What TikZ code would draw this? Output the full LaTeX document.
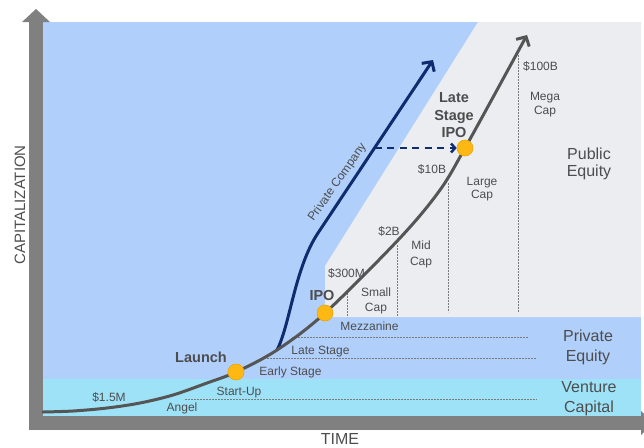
\documentclass[tikz,border=0pt]{standalone}
\usepackage{fontspec}
\setmainfont{Liberation Sans}
\usetikzlibrary{arrows.meta}
\definecolor{skyblue}{HTML}{B0CFFB}
\definecolor{pubgray}{HTML}{EBEDF1}
\definecolor{vcyan}{HTML}{9EE2F8}
\definecolor{axisgray}{HTML}{808080}
\definecolor{curvegray}{HTML}{555555}
\definecolor{navyline}{HTML}{0E2C6E}
\definecolor{dotfill}{HTML}{FDB813}
\definecolor{dotrim}{HTML}{EFA400}
\definecolor{labelgray}{HTML}{4D4D4D}
\definecolor{guidegray}{HTML}{7A7A7A}
\newcommand\fsz[2]{\fontsize{#1}{#2}\selectfont}
\begin{document}
\begin{tikzpicture}[x=1pt,y=-1pt,
  lbl/.style={inner sep=0pt, text=labelgray, font=\fsz{12}{14}},
  single/.style={lbl, anchor=base},
  multi/.style={lbl, anchor=north, align=center},
  bigtxt/.style={font=\fsz{16}{#1}},
  boldtxt/.style={font=\bfseries\fsz{14.5}{#1}},
  guide/.style={draw=guidegray, line width=0.8pt, dash pattern=on 1.6pt off 1.4pt},
  growth/.style={draw=curvegray, line width=3pt, line cap=round,
    -{Straight Barb[length=7pt,width=15pt]}},
  privline/.style={draw=navyline, line width=3pt, line cap=round,
    -{Straight Barb[length=7pt,width=15pt]}},
  jump/.style={draw=navyline, line width=2.5pt, dash pattern=on 7pt off 5.5pt,
    -{Straight Barb[length=4pt,width=9pt]}},
  dot/.style={circle, fill=dotfill, draw=dotrim, line width=0.6pt,
    minimum size=16pt, inner sep=0pt}]
\useasboundingbox (0,0) rectangle (644,447);

% market regions
\fill[skyblue] (43,22) rectangle (641,416);
\fill[pubgray] (478,22) -- (641,22) -- (641,317) -- (325,317) -- (325,266) -- cycle;
\fill[vcyan] (43,379) rectangle (641,416);

% stage guides
\draw[guide] (292,337) -- (528,337);
\draw[guide] (267,358) -- (537,358);
\draw[guide] (185,399) -- (537,399);
\draw[guide] (347,290) -- (347,317);
\draw[guide] (397,245) -- (397,317);
\draw[guide] (448,183) -- (448,312);
\draw[guide] (518,55) -- (518,312);

% axes
\fill[axisgray] (29,22) rectangle (43,430);
\fill[axisgray] (22,22) -- (36,9) -- (50,22) -- cycle;
\fill[axisgray] (29,416) rectangle (641,430);
\fill[axisgray] (641,411) -- (654,423) -- (641,435) -- cycle;

% key points on the growth curve
\coordinate (pLaunch) at (236,372);
\coordinate (pFork) at (277,350);
\coordinate (pIPO) at (325,313);
\coordinate (pLate) at (465,148);
\coordinate (privTip) at (433,60);
\coordinate (privBend) at (318,233);
\coordinate (jumpStart) at (374.5,148);

% private company path
\draw[privline] (pFork) .. controls (290,325) and (294.7,268) .. (privBend) -- (privTip);

% public growth curve
\draw[growth] plot[smooth, tension=0.55] coordinates {(43,412) (73,411) (107,408)
  (140,403) (173,395) (207,383) (pLaunch) (pFork) (pIPO) (400,238) (440,190)
  (pLate) (497,90)} -- (527,35);

% milestones
\node[dot] (launch) at (pLaunch) {};
\node[dot] (ipo) at (pIPO) {};
\node[dot] (lateipo) at (pLate) {};

\draw[jump] (jumpStart) -- (lateipo);

% labels
\node[single] (d15) at (109,401) {\$1.5M};
\node[single] (angel) at (182,411) {Angel};
\node[single] (startup) at (239,395.5) {Start-Up};
\node[single, boldtxt=17] (launchlbl) at (201,362.5) {Launch};
\node[single] (early) at (290.5,375) {Early Stage};
\node[single] (latestage) at (320.5,354) {Late Stage};
\node[single, boldtxt=17] (ipolbl) at (322,300) {IPO};
\node[single] (mezz) at (369.5,330) {Mezzanine};
\node[single] (d300) at (346.5,277) {\$300M};
\node[single] (d2b) at (389,235) {\$2B};
\node[single] (d10b) at (432,173) {\$10B};
\node[single] (d100b) at (540.5,70.5) {\$100B};

\node[multi, font=\fsz{12}{13.5}] (mega) at (545,92.4) {Mega\\Cap};
\node[multi, font=\fsz{12}{12.3}] (large) at (482,177.4) {Large\\Cap};
\node[multi, font=\fsz{12}{16}] (mid) at (421,240.7) {Mid\\Cap};
\node[multi, font=\fsz{12}{14.7}] (small) at (376,287.4) {Small\\Cap};
\node[multi, boldtxt=17.5] (lateipolbl) at (454,92.4) {Late\\Stage\\IPO};

\node[multi, bigtxt=17.7] (public) at (589,147.4) {Public\\Equity};
\node[multi, bigtxt=20] (privateq) at (588,330) {Private\\Equity};
\node[multi, bigtxt=19.3] (venture) at (589,381.7) {Venture\\Capital};

\node[lbl, rotate=55] (privco) at (337.5,182.5) {Private Company};

\node[single, bigtxt=18] (timelbl) at (340,444.5) {TIME};
\node[single, font=\fsz{15}{18}, rotate=90] (caplbl) at (25,205) {CAPITALIZATION};
\end{tikzpicture}
\end{document}
